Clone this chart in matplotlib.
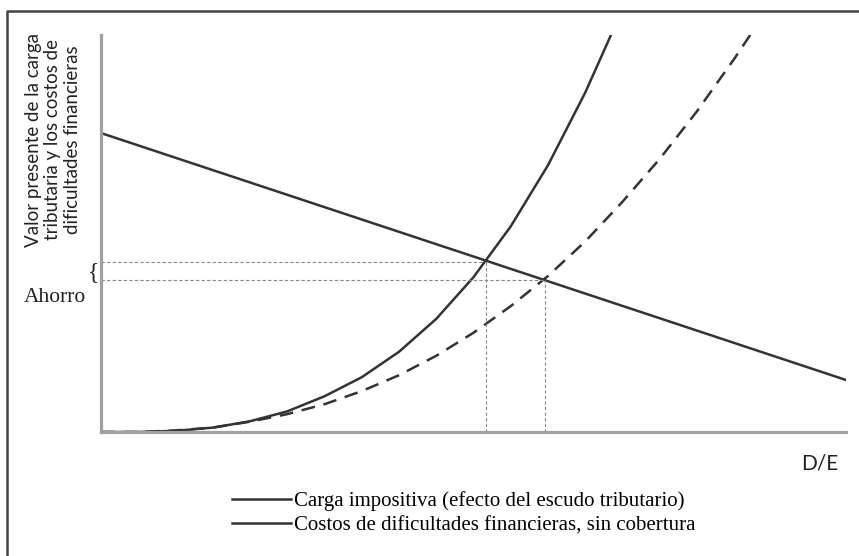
import matplotlib.pyplot as plt
from matplotlib.lines import Line2D

#--- data (D/E on 0..10, value on 0..10) ---
tax_x = [0.0, 10.0]
tax_y = [7.53, 1.31]

cost_x = [0.0, 0.5, 1.0, 1.5, 2.0, 2.5, 3.0, 3.5, 4.0, 4.5, 5.0, 5.5, 6.0, 6.5, 7.0]
cost_y = [0.0, 0.0, 0.03, 0.11, 0.27, 0.52, 0.90, 1.38, 2.02, 2.85, 3.90, 5.18, 6.72, 8.55, 10.65]

hedge_x = [0.0, 0.5, 1.0, 1.5, 2.0, 2.5, 3.0, 3.5, 4.0, 4.5, 5.0, 5.5, 6.0, 6.5, 7.0, 7.5, 8.0, 8.5, 9.0]
hedge_y = [0.0, 0.0, 0.04, 0.11, 0.26, 0.45, 0.70, 1.03, 1.43, 1.92, 2.50, 3.17, 3.93, 4.80, 5.80, 6.88, 8.08, 9.40, 10.8]

opt1 = (5.17, 4.28)   # sin cobertura
opt2 = (5.96, 3.82)   # con cobertura

labels = ['Carga impositiva (efecto del escudo tributario)',
          'Costos de dificultades financieras, sin cobertura']
ylabel = 'Valor presente de la carga\ntributaria y los costos de\ndificultades financieras'

W, H = 859, 556
fig = plt.figure(figsize=(W/100, H/100), dpi=100)
ax = fig.add_axes([101/W, 1-432/H, 745/W, 397/H])

dark = '#333333'
ax.plot(tax_x, tax_y, color=dark, lw=1.8)
ax.plot(cost_x, cost_y, color=dark, lw=1.8)
ax.plot(hedge_x, hedge_y, color=dark, lw=1.8, dashes=(5.5, 3.5))

# guide lines
for px, py in (opt1, opt2):
    ax.plot([0, px], [py, py], color='#888888', lw=0.8, dashes=(3, 2))
    ax.plot([px, px], [0, py], color='#888888', lw=0.8, dashes=(3, 2))

ax.set_xlim(0, 10)
ax.set_ylim(0, 10)
ax.set_xticks([]); ax.set_yticks([])
for s in ('top', 'right'):
    ax.spines[s].set_visible(False)
for s in ('left', 'bottom'):
    ax.spines[s].set_color('#a0a0a0')
    ax.spines[s].set_linewidth(2.3)

# texts
fig.text(53/W, 1-140/H, ylabel, rotation=90, ha='center', va='center',
         family='Lato', fontsize=13.5, color='#222222', linespacing=1.2)
fig.text(93/W, 1-273/H, '{', ha='center', va='center', family='Liberation Serif',
         fontsize=17, color='#222222')
fig.text(55/W, 1-298/H, 'Ahorro', ha='center', va='center', family='Liberation Serif',
         fontsize=15.5, color='#222222')
fig.text(820/W, 1-464/H, 'D/E', ha='center', va='center', family='Lato',
         fontsize=15, color='#222222')

handles = [Line2D([], [], color=dark, lw=1.8), Line2D([], [], color=dark, lw=1.8)]
fig.legend(handles, labels, loc='upper left', bbox_to_anchor=(222/W, 1-481/H),
           frameon=False, borderpad=0, handlelength=2.8, handletextpad=0.15,
           labelspacing=0.2, prop={'family': 'Liberation Serif', 'size': 15})

# frame around the figure (top and left only)
fig.add_artist(Line2D([7/W, 7/W, 1], [0, 1-11/H, 1-11/H], color='#444444', lw=1.8,
                      transform=fig.transFigure))

fig.savefig('out.png', dpi=100)
